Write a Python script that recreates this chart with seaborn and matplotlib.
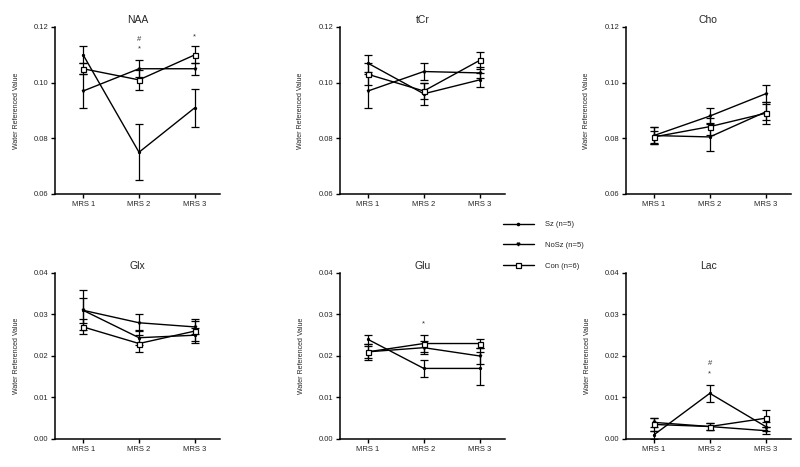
import matplotlib
matplotlib.use("Agg")
import matplotlib.pyplot as plt
import seaborn as sns
import pandas as pd
from matplotlib.lines import Line2D

sns.set_style("ticks")
plt.rcParams["font.family"] = ["Liberation Sans", "DejaVu Sans"]

timepoints = ["MRS 1", "MRS 2", "MRS 3"]
groups = ["Sz (n=5)", "NoSz (n=5)", "Con (n=6)"]

# means per group (Sz, NoSz, Con) at MRS 1..3
naa_mean = [[0.110, 0.075, 0.091], [0.097, 0.105, 0.105], [0.105, 0.101, 0.110]]
naa_err = [[0.003, 0.010, 0.0068], [0.006, 0.003, 0.0022], [0.002, 0.0035, 0.003]]
tcr_mean = [[0.107, 0.096, 0.101], [0.097, 0.104, 0.1035], [0.103, 0.097, 0.108]]
tcr_err = [[0.003, 0.004, 0.0025], [0.006, 0.003, 0.002], [0.004, 0.003, 0.003]]
cho_mean = [[0.081, 0.0805, 0.0895], [0.081, 0.088, 0.096], [0.0805, 0.0842, 0.089]]
cho_err = [[0.003, 0.005, 0.003], [0.003, 0.003, 0.003], [0.002, 0.003, 0.004]]
glx_mean = [[0.031, 0.0244, 0.025], [0.031, 0.028, 0.027], [0.027, 0.023, 0.026]]
glx_err = [[0.0048, 0.0018, 0.0018], [0.003, 0.002, 0.0018], [0.0018, 0.002, 0.0025]]
glu_mean = [[0.024, 0.017, 0.017], [0.021, 0.022, 0.020], [0.021, 0.023, 0.023]]
glu_err = [[0.001, 0.002, 0.004], [0.0015, 0.0015, 0.002], [0.002, 0.002, 0.001]]
lac_mean = [[0.001, 0.011, 0.003], [0.004, 0.003, 0.002], [0.0035, 0.003, 0.005]]
lac_err = [[0.001, 0.002, 0.001], [0.001, 0.0008, 0.0008], [0.0015, 0.0008, 0.002]]

panels = [
    ("NAA", naa_mean, naa_err, [0.06, 0.08, 0.10, 0.12]),
    ("tCr", tcr_mean, tcr_err, [0.06, 0.08, 0.10, 0.12]),
    ("Cho", cho_mean, cho_err, [0.06, 0.08, 0.10, 0.12]),
    ("Glx", glx_mean, glx_err, [0.00, 0.01, 0.02, 0.03, 0.04]),
    ("Glu", glu_mean, glu_err, [0.00, 0.01, 0.02, 0.03, 0.04]),
    ("Lac", lac_mean, lac_err, [0.00, 0.01, 0.02, 0.03, 0.04]),
]

# significance marks: panel, timepoint index, y, symbol
marks = [
    ("NAA", 1, 0.1156, "#"), ("NAA", 1, 0.1121, "*"), ("NAA", 2, 0.1164, "*"),
    ("Glu", 1, 0.0278, "*"),
    ("Lac", 1, 0.0182, "#"), ("Lac", 1, 0.0156, "*"),
]

styles = {
    "Sz (n=5)": dict(marker="o", markersize=1.6, markerfacecolor="black", markeredgecolor="black"),
    "NoSz (n=5)": dict(marker="v", markersize=2.0, markerfacecolor="black", markeredgecolor="black"),
    "Con (n=6)": dict(marker="s", markersize=3.6, markerfacecolor="white", markeredgecolor="black", markeredgewidth=0.9),
}

fig = plt.figure(figsize=(8, 4.67), dpi=100)
lefts = [0.069, 0.425, 0.7825]
bottoms = [0.5846, 0.060]
heights = [0.3576, 0.3555]

for i, (name, means, errs, yticks) in enumerate(panels):
    r, c = divmod(i, 3)
    ax = fig.add_axes([lefts[c], bottoms[r], 0.206, heights[r]])
    for g, m, e in zip(groups, means, errs):
        df = pd.DataFrame({"pos": [0, 1, 2], "value": m})
        ax.errorbar(df["pos"], df["value"], yerr=e, fmt="none", ecolor="black",
                    elinewidth=0.9, capsize=2.7, capthick=0.9, zorder=2)
        sns.lineplot(data=df, x="pos", y="value", ax=ax, color="black", linewidth=1.0,
                     zorder=3, **styles[g])
    for pn, xi, yv, sym in marks:
        if pn == name:
            ax.text(xi, yv, sym, ha="center", va="center", fontsize=5.5, color="#333333")
    ax.set_xlim(-0.5, 2.45)
    ax.set_ylim(yticks[0], yticks[-1])
    ax.set_yticks(yticks)
    ax.set_yticklabels([f"{t:.2f}" for t in yticks])
    ax.set_xticks([0, 1, 2])
    ax.set_xticklabels(timepoints)
    ax.set_xlabel("")
    ax.set_ylabel("Water Referenced Value", fontsize=5, labelpad=10)
    ax.set_title(name, fontsize=7.5, pad=3)
    ax.tick_params(labelsize=5.5, length=3, width=1, pad=2, color="black")
    for s in ["left", "bottom"]:
        ax.spines[s].set_linewidth(1.1)
        ax.spines[s].set_color("black")
    sns.despine(ax=ax)

handles = [Line2D([0], [0], color="black", linewidth=1.0, **styles[g]) for g in groups]
fig.legend(handles, groups, loc="upper left", bbox_to_anchor=(503 / 800, 1 - 221 / 467),
           frameon=False, fontsize=5.5, handlelength=4.0, handletextpad=1.5,
           labelspacing=1.75, borderpad=0, borderaxespad=0)

fig.savefig("out.png", dpi=100)
